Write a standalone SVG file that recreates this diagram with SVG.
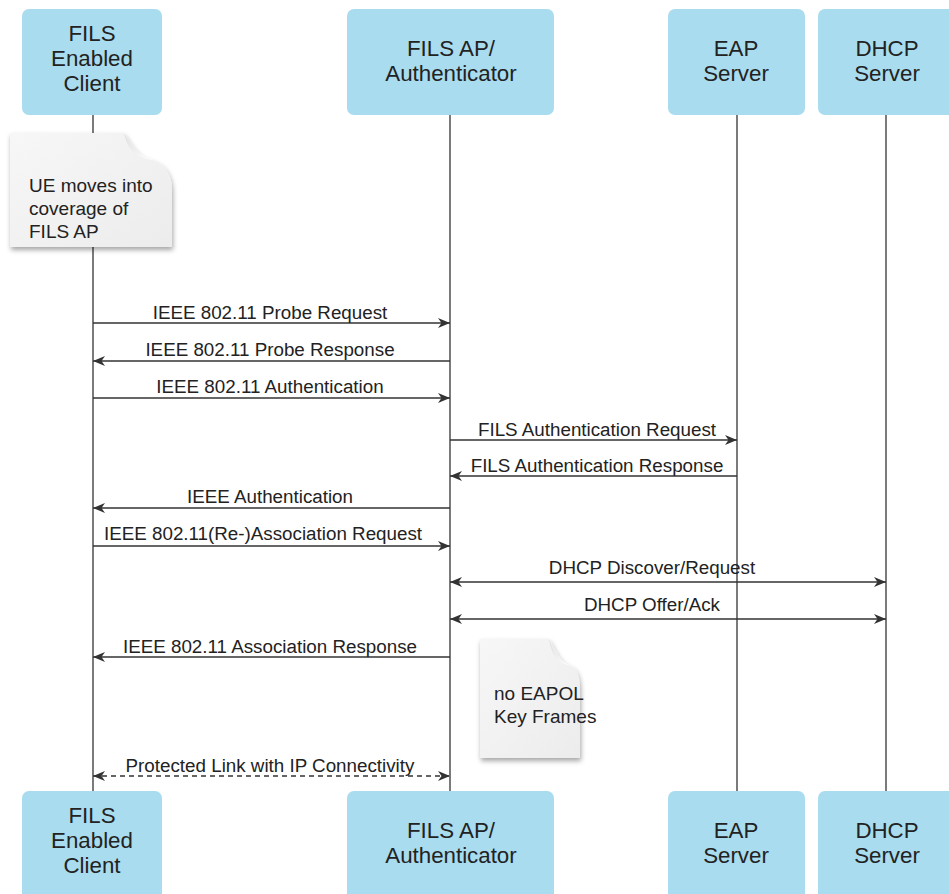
<svg xmlns="http://www.w3.org/2000/svg" width="949" height="894" viewBox="0 0 949 894">
  <defs>
    <style>
      .box { fill: #a9dcee; }
      .hdr { font-family: "Liberation Sans", Arial, sans-serif; font-size: 22.3px; fill: #222; text-anchor: middle; }
      .lbl { font-family: "Liberation Sans", Arial, sans-serif; font-size: 18.8px; fill: #222; text-anchor: middle; }
      .note { font-family: "Liberation Sans", Arial, sans-serif; font-size: 19px; fill: #222; }
      .life { stroke: #333; stroke-width: 1.3; fill: none; }
      .msg { stroke: #333; stroke-width: 1.3; fill: none; marker-end: url(#arrow); }
      .both { marker-start: url(#arrow); }
      .dash { stroke-dasharray: 5 4; }
      .page { fill: url(#paper); filter: url(#shadow); }
      .flap { fill: url(#flapGrad); }
    </style>
    <marker id="arrow" viewBox="0 0 12 10" refX="12" refY="5" markerWidth="12" markerHeight="10" markerUnits="userSpaceOnUse" orient="auto-start-reverse">
      <path d="M0,0 L12,5 L0,10 L3.5,5 Z" fill="#333"/>
    </marker>
    <linearGradient id="paper" x1="0" y1="0" x2="1" y2="1">
      <stop offset="0" stop-color="#f7f7f7"/>
      <stop offset="1" stop-color="#ececec"/>
    </linearGradient>
    <linearGradient id="flapGrad" x1="0" y1="0" x2="1" y2="1">
      <stop offset="0" stop-color="#dedede"/>
      <stop offset="1" stop-color="#ffffff"/>
    </linearGradient>
    <filter id="shadow" x="-10%" y="-10%" width="125%" height="125%">
      <feDropShadow dx="1" dy="3" stdDeviation="2.5" flood-color="#000" flood-opacity="0.35"/>
    </filter>
  </defs>

  <!-- lifelines -->
  <g id="lifelines">
    <line class="life" x1="93" y1="115" x2="93" y2="791"/>
    <line class="life" x1="450" y1="115" x2="450" y2="791"/>
    <line class="life" x1="737" y1="115" x2="737" y2="791"/>
    <line class="life" x1="886" y1="115" x2="886" y2="791"/>
  </g>

  <!-- participants, top row -->
  <g id="client-top">
    <rect class="box" x="22" y="9" width="140" height="106" rx="7"/>
    <text class="hdr" x="92" y="41">FILS</text>
    <text class="hdr" x="92" y="66">Enabled</text>
    <text class="hdr" x="92" y="91">Client</text>
  </g>
  <g id="ap-top">
    <rect class="box" x="347" y="9" width="207" height="106" rx="7"/>
    <text class="hdr" x="451" y="56">FILS AP/</text>
    <text class="hdr" x="451" y="81">Authenticator</text>
  </g>
  <g id="eap-top">
    <rect class="box" x="668" y="9" width="137" height="106" rx="7"/>
    <text class="hdr" x="736" y="56">EAP</text>
    <text class="hdr" x="736" y="81">Server</text>
  </g>
  <g id="dhcp-top">
    <rect class="box" x="818" y="9" width="140" height="106" rx="7"/>
    <text class="hdr" x="887" y="56">DHCP</text>
    <text class="hdr" x="887" y="81">Server</text>
  </g>

  <!-- participants, bottom row -->
  <g id="client-bottom">
    <rect class="box" x="22" y="791" width="140" height="115" rx="7"/>
    <text class="hdr" x="92" y="823">FILS</text>
    <text class="hdr" x="92" y="848">Enabled</text>
    <text class="hdr" x="92" y="873">Client</text>
  </g>
  <g id="ap-bottom">
    <rect class="box" x="347" y="791" width="207" height="115" rx="7"/>
    <text class="hdr" x="451" y="838">FILS AP/</text>
    <text class="hdr" x="451" y="863">Authenticator</text>
  </g>
  <g id="eap-bottom">
    <rect class="box" x="668" y="791" width="137" height="115" rx="7"/>
    <text class="hdr" x="736" y="838">EAP</text>
    <text class="hdr" x="736" y="863">Server</text>
  </g>
  <g id="dhcp-bottom">
    <rect class="box" x="818" y="791" width="140" height="115" rx="7"/>
    <text class="hdr" x="887" y="838">DHCP</text>
    <text class="hdr" x="887" y="863">Server</text>
  </g>

  <!-- notes -->
  <g id="note-coverage">
    <path class="page" d="M10,133 H124 C132,146 140,158 152,160 C164,163 172,174 172,190 V247 H10 Z"/>
    <path class="flap" d="M124,133 C127,147 133,157 152,160 C140,155 131,146 124,133 Z"/>
    <text class="note" x="29" y="192">UE moves into</text>
    <text class="note" x="29" y="215">coverage of</text>
    <text class="note" x="29" y="238">FILS AP</text>
  </g>
  <g id="note-eapol">
    <path class="page" d="M480,639 H549 C556,652 562,664 571,666 C577,669 580,676 580,690 V758 H480 Z"/>
    <path class="flap" d="M549,639 C551,653 556,663 571,666 C561,661 554,652 549,639 Z"/>
    <text class="note" x="494" y="700">no EAPOL</text>
    <text class="note" x="494" y="723">Key Frames</text>
  </g>

  <!-- messages -->
  <g id="connectors">
    <line class="msg" x1="93" y1="323" x2="450" y2="323"/>
    <text class="lbl" x="270" y="319">IEEE 802.11 Probe Request</text>

    <line class="msg" x1="450" y1="361" x2="93" y2="361"/>
    <text class="lbl" x="270" y="356">IEEE 802.11 Probe Response</text>

    <line class="msg" x1="93" y1="398" x2="450" y2="398"/>
    <text class="lbl" x="270" y="393">IEEE 802.11 Authentication</text>

    <line class="msg" x1="450" y1="440" x2="737" y2="440"/>
    <text class="lbl" x="597" y="436">FILS Authentication Request</text>

    <line class="msg" x1="737" y1="476" x2="450" y2="476"/>
    <text class="lbl" x="597" y="472">FILS Authentication Response</text>

    <line class="msg" x1="450" y1="508" x2="93" y2="508"/>
    <text class="lbl" x="270" y="503">IEEE Authentication</text>

    <line class="msg" x1="93" y1="546" x2="450" y2="546"/>
    <text class="lbl" x="263" y="540">IEEE 802.11(Re-)Association Request</text>

    <line class="msg both" x1="450" y1="582" x2="886" y2="582"/>
    <text class="lbl" x="652" y="574">DHCP Discover/Request</text>

    <line class="msg both" x1="450" y1="619" x2="886" y2="619"/>
    <text class="lbl" x="652" y="611">DHCP Offer/Ack</text>

    <line class="msg" x1="450" y1="657" x2="93" y2="657"/>
    <text class="lbl" x="270" y="653">IEEE 802.11 Association Response</text>

    <line class="msg both dash" x1="93" y1="776" x2="450" y2="776"/>
    <text class="lbl" x="270" y="772">Protected Link with IP Connectivity</text>
  </g>
</svg>
